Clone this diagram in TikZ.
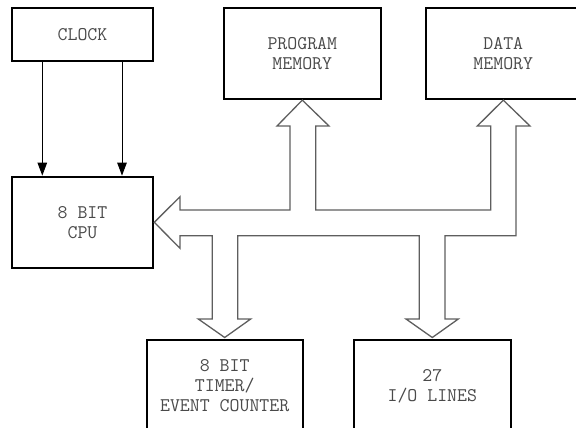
\documentclass[tikz,border=0pt]{standalone}
\usetikzlibrary{arrows.meta,calc}
\definecolor{txtgray}{HTML}{4A4A4A}
\definecolor{busgray}{HTML}{5E5E5E}
\newcommand{\boxfont}{\ttfamily\fontsize{19.3}{20}\selectfont}
\begin{document}
\begin{tikzpicture}[x=1pt,y=-1pt,
  blk/.style={draw=black,line width=2pt,rectangle,inner sep=0pt,
    font=\boxfont,text=txtgray,align=center},
  clk/.style={draw=black,line width=1pt,-{Triangle[length=13pt,width=9.5pt]}},
  bus/.style={draw=busgray,line width=1.3pt,line join=miter}]
\useasboundingbox (0,0) rectangle (576,428);
\clip (0,0) rectangle (576,428);
\node[blk,minimum width=141.6pt,minimum height=52.4pt] (clock) at (82.5,34.5) {CLOCK};
\node[blk,minimum width=141.6pt,minimum height=91.3pt] (cpu) at (82.5,222.3) {8 BIT\\CPU};
\node[blk,minimum width=156.7pt,minimum height=90.9pt] (prog) at (302.3,53.7) {PROGRAM\\MEMORY};
\node[blk,minimum width=155.3pt,minimum height=90.9pt] (data) at (503.3,53.7) {DATA\\MEMORY};
\node[blk,minimum width=156pt,minimum height=91pt] (timer) at (224.7,385.5) {8 BIT\\TIMER/\\EVENT COUNTER};
\node[blk,minimum width=156.7pt,minimum height=91pt,text depth=0pt] (io) at (432.3,385.5) {27\\I/O LINES};
% clock lines
\draw[clk] ($(clock.south west)+(31.6,0)$) -- ($(cpu.north west)+(31.6,0)$);
\draw[clk] ($(clock.south east)-(32.3,0)$) -- ($(cpu.north east)-(32.3,0)$);
% bus outline
\draw[bus] (180,210) -- (290,210) -- (290,126) -- (277,126) -- (prog.south) -- (329,126)
  -- (315.7,126) -- (315.7,210) -- (490.7,210) -- (490.7,126) -- (477.3,126) -- (data.south)
  -- (530,126) -- (516,126) -- (516,235.7) -- (445,235.7) -- (445,319) -- (458.3,319)
  -- ($(io.north)+(0,-1.5)$) -- (406,319) -- (419.3,319) -- (419.3,235.7) -- (237.7,235.7)
  -- (237.7,319) -- (250.7,319) -- ($(timer.north)+(0,-1.5)$) -- (198.3,319) -- (212.3,319)
  -- (212.3,235.7) -- (180,235.7) -- (180,248.3) -- (cpu.east) -- (180,196.7) -- cycle;
\end{tikzpicture}
\end{document}
